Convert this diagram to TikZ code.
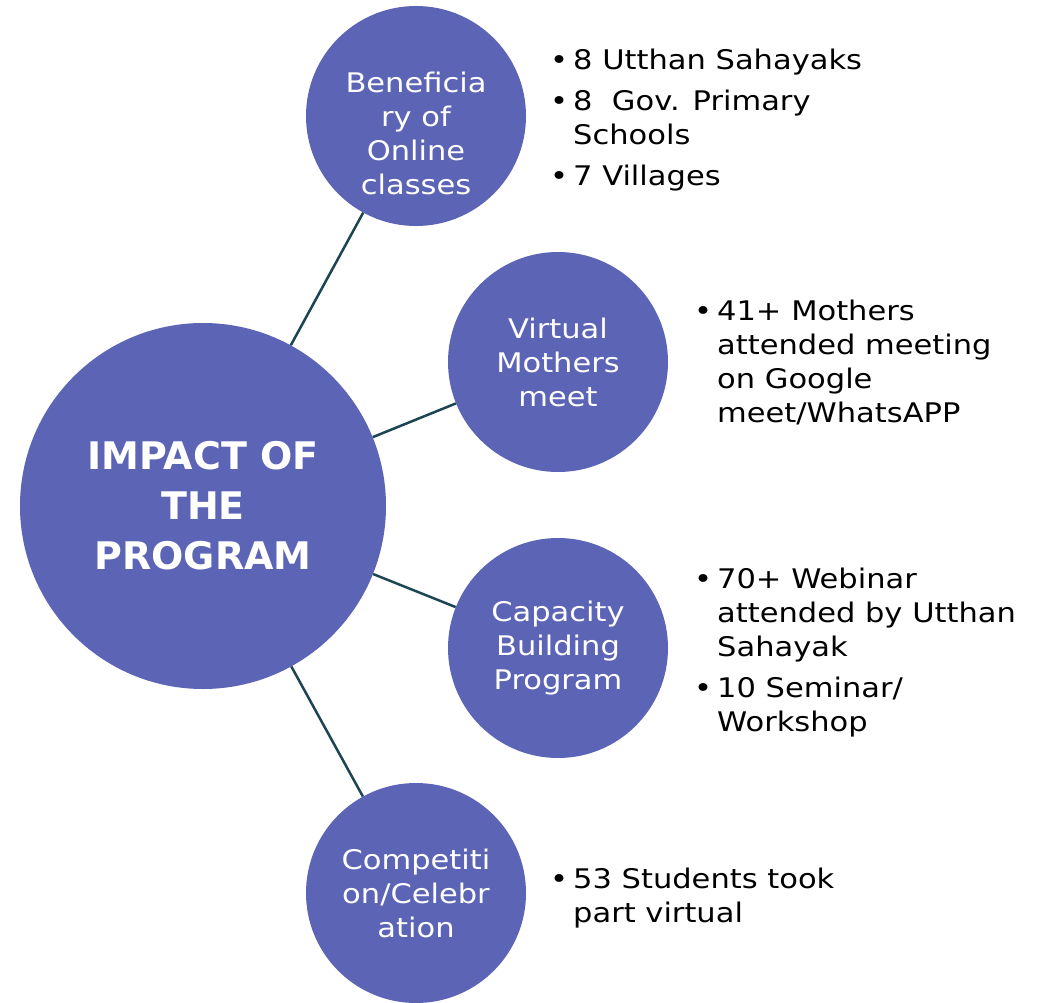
\documentclass[tikz,border=0pt]{standalone}
\usepackage{fontspec}
\setmainfont{DejaVu Sans}[FakeStretch=1.13]
\newfontfamily\titlefont{DejaVu Sans}
\definecolor{circ}{HTML}{5C64B5}
\definecolor{conn}{HTML}{1C4553}
\begin{document}
\begin{tikzpicture}[x=1pt,y=-1pt,
  hub/.style={circle,fill=circ,minimum size=366pt,inner sep=0pt,text=white,
    font=\titlefont\bfseries\fontsize{38}{50}\selectfont,align=center},
  spoke/.style={circle,fill=circ,minimum size=220pt,inner sep=0pt,text=white,
    font=\fontsize{27}{34}\selectfont,align=center},
  spoketext/.style={inner sep=0pt,text=white,font=\fontsize{27}{34}\selectfont,align=center},
  link/.style={draw=conn,line width=2.5pt},
  info/.style={anchor=base west,inner sep=0pt,font=\fontsize{27}{34}\selectfont,text=black}]
\useasboundingbox[fill=white] (0,0) rectangle (1038,1003);
\node[hub] (c) at (203,506) {IMPACT OF\\THE\\PROGRAM};
\node[spoke] (b1) at (416,116) {};
\node[spoketext] (b1t) at (416,133) {Beneficia\\ry of\\Online\\classes};
\node[spoke] (b2) at (558,362) {Virtual\\Mothers\\meet};
\node[spoke] (b3) at (558,648) {Capacity\\Building\\Program};
\node[spoke] (b4) at (416,893) {Competiti\\on/Celebr\\ation};
\draw[link] (c) -- (b1);
\draw[link] (c) -- (b2);
\draw[link] (c) -- (b3);
\draw[link] (c) -- (b4);
\node[info] (i1) at (550,70) {\begin{tabular}[t]{@{}l@{\hspace{5pt}}l@{}}
•&8 Utthan Sahayaks\\[7pt]
•&8\ \ Gov. Primary\\
&Schools\\[7pt]
•&7 Villages
\end{tabular}};
\node[info] (i2) at (694,320) {\begin{tabular}[t]{@{}l@{\hspace{5pt}}l@{}}
•&41+ Mothers\\
&attended meeting\\
&on Google\\
&meet/WhatsAPP
\end{tabular}};
\node[info] (i3) at (694,588) {\begin{tabular}[t]{@{}l@{\hspace{5pt}}l@{}}
•&70+ Webinar\\
&attended by Utthan\\
&Sahayak\\[7pt]
•&10 Seminar/\\
&Workshop
\end{tabular}};
\node[info] (i4) at (550,888) {\begin{tabular}[t]{@{}l@{\hspace{5pt}}l@{}}
•&53 Students took\\
&part virtual
\end{tabular}};
\end{tikzpicture}
\end{document}
